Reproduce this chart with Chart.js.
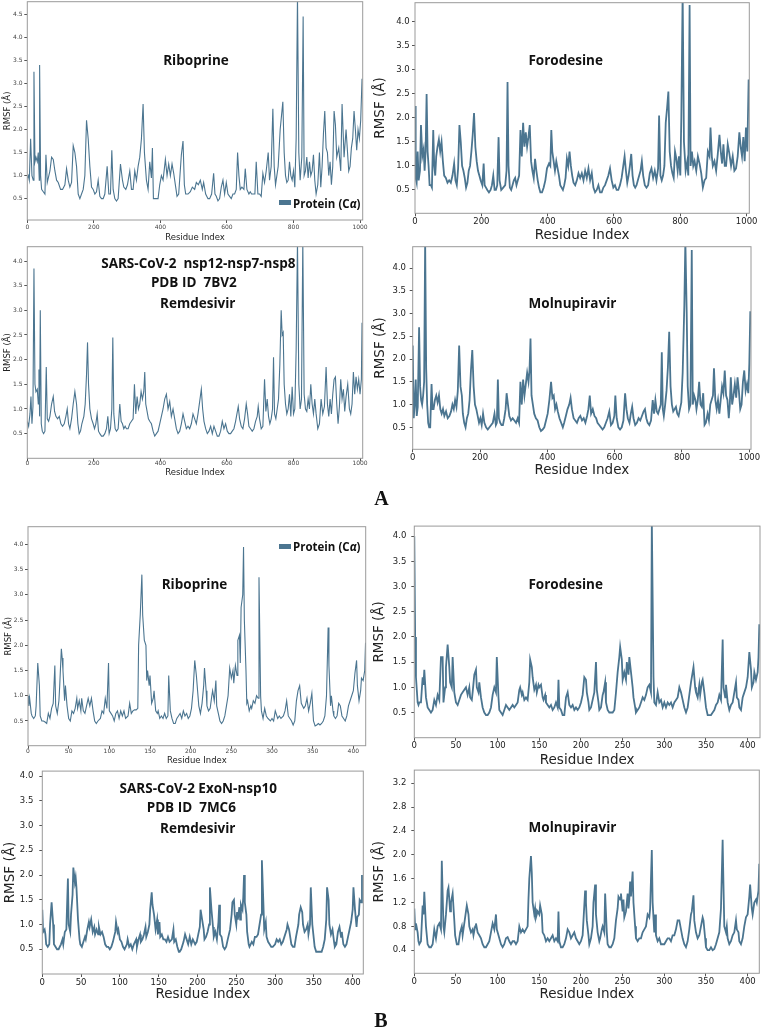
<!DOCTYPE html>
<html lang="en">
<head>
    <meta charset="UTF-8" />
    <title>RMSF plots</title>
    <style>
        body { margin: 0; background: #fff; }
        #fig { position: relative; width: 762px; height: 1028px; overflow: hidden; background: #fff; }
        #fig canvas { position: absolute; }
        .lbl {
            position: absolute;
            transform: translate(-50%, -50%);
            font-family: "Open Sans", sans-serif;
            font-weight: 700;
            font-size: 13.5px;
            color: #111;
            white-space: pre;
        }
        .leg { position: absolute; font-family: "Open Sans", sans-serif; font-weight: 700; font-size: 11.5px; color: #111; white-space: nowrap; transform: translateY(-50%); }
        .sw { position: absolute; width: 12px; height: 5px; background: #4b7590; }
        .panel-tag { position: absolute; transform: translate(-50%, -50%); font-family: "Liberation Serif", serif; font-weight: 700; font-size: 20px; color: #111; }
    </style>
    <script src="https://cdn.jsdelivr.net/npm/chart.js"></script>
</head>
<body>
<div id="fig"></div>
<script>
    // nsp12-nsp7-nsp8 (A): residue index / RMSF
    const ribA_res = [
        0,3,6,10,14,18,20,23,26,30,
        33,36,37,40,43,48,53,56,60,68,
        73,78,83,88,93,100,106,113,118,123,
        128,133,138,143,148,153,158,163,168,173,
        178,183,188,193,198,203,208,213,218,223,
        228,233,240,245,250,254,258,263,268,273,
        280,286,290,296,301,308,313,318,323,328,
        333,338,343,348,352,355,358,363,368,373,
        376,379,388,393,398,403,408,415,420,425,
        430,435,440,445,450,455,463,468,472,476,
        483,490,496,503,508,514,520,526,530,536,
        543,548,554,560,564,568,573,578,583,588,
        593,598,603,608,613,618,623,628,632,636,
        640,645,651,655,660,666,670,674,680,684,
        688,693,698,703,708,713,718,724,728,733,
        738,742,746,750,754,760,764,768,772,776,
        780,784,788,792,796,800,804,808,812,816,
        820,825,829,832,836,840,844,848,852,856,
        860,864,868,873,878,882,886,890,894,898,
        902,906,910,914,918,922,926,930,936,942,
        946,952,958,962,966,970,974,978,982,986,
        990,994,998,1002,1006
    ];
    const ribA_rmsf = [
        0.95,1.0,0.9,1.8,1.0,0.9,3.25,1.3,1.4,1.3,
        1.5,0.9,3.4,1.0,0.7,0.65,0.6,1.45,0.85,1.1,
        1.4,1.35,1.1,0.9,0.85,0.7,0.7,0.8,1.15,0.9,
        0.75,0.85,1.65,1.5,1.2,0.6,0.5,0.6,0.7,1.0,
        2.2,1.8,1.2,0.75,0.7,0.6,0.65,0.9,0.55,0.5,
        0.5,0.6,1.2,0.6,0.6,1.55,0.7,0.5,0.45,0.5,
        1.25,0.9,0.75,0.7,0.8,1.1,0.7,0.7,1.1,0.9,
        1.2,1.4,1.8,2.55,1.5,1.2,0.9,0.7,1.3,0.95,
        1.6,0.5,0.5,0.5,0.8,1.0,0.9,1.35,1.0,1.25,
        1.0,1.25,1.05,0.8,0.55,0.6,1.45,1.75,0.8,0.6,
        0.6,0.65,0.75,0.7,0.85,0.8,0.9,0.7,0.85,0.6,
        0.5,0.5,0.6,1.05,0.6,0.55,0.45,0.5,0.75,0.9,
        0.6,0.85,0.6,0.55,0.5,0.6,0.6,0.7,1.5,1.0,
        0.7,0.75,0.7,1.15,0.7,0.6,0.65,0.6,0.6,0.6,
        1.3,0.6,0.6,0.55,1.05,0.85,1.1,1.5,0.9,1.2,
        2.45,1.2,0.8,1.0,1.2,2.0,2.3,2.6,1.5,1.0,
        0.85,0.9,1.3,1.0,0.9,1.1,0.75,1.8,4.9,1.5,
        0.9,1.4,4.45,1.0,1.1,1.4,0.95,1.3,1.0,1.1,
        1.45,0.9,0.6,0.8,1.5,0.75,1.2,1.9,2.4,1.6,
        1.5,1.0,1.3,0.8,1.2,2.4,2.1,1.4,1.6,1.1,
        2.55,1.4,2.0,1.55,1.1,1.2,1.6,1.8,2.4,2.0,
        1.55,2.0,1.8,2.2,3.1
    ];

    const foroA_res = [
        0,2,5,8,11,15,18,22,26,29,
        32,35,38,41,44,48,51,55,58,61,
        64,68,72,76,80,84,88,93,98,103,
        108,113,118,122,126,130,134,138,142,146,
        150,154,158,162,166,170,174,178,182,186,
        190,194,198,203,207,210,214,218,223,228,
        232,236,240,244,248,252,255,260,266,272,
        276,279,282,286,290,294,298,302,306,310,
        314,318,322,326,330,334,338,342,346,350,
        354,358,362,366,370,374,378,383,388,393,
        398,404,408,411,414,418,422,426,430,434,
        438,442,446,450,454,458,462,466,470,474,
        478,483,488,493,498,503,508,513,518,523,
        528,533,538,543,548,553,558,563,568,573,
        578,583,588,593,598,603,608,613,618,623,
        628,632,636,640,644,648,652,656,660,664,
        668,672,676,680,684,688,693,698,703,708,
        713,718,723,728,733,736,740,744,748,752,
        756,760,764,768,772,776,780,784,788,792,
        796,800,803,807,811,816,821,824,828,831,
        835,839,843,848,853,858,863,868,873,878,
        883,888,891,895,898,903,908,913,918,922,
        926,930,934,938,943,948,953,958,963,968,
        973,978,982,986,990,994,998,1002,1006
    ];
    const foroA_rmsf = [
        2.25,0.75,0.65,1.3,0.7,0.9,1.85,1.2,1.35,0.9,
        1.3,2.5,1.3,1.0,0.6,0.6,0.55,1.75,1.0,0.8,
        1.2,1.4,1.55,1.3,1.5,1.1,0.8,0.75,0.65,0.7,
        0.65,0.8,1.05,0.7,0.6,0.95,1.85,1.5,1.0,0.9,
        0.75,0.55,0.65,0.9,1.0,1.3,1.65,2.1,1.4,1.1,
        0.9,0.8,0.7,0.6,1.05,0.6,0.55,0.5,0.45,0.5,
        0.6,0.8,0.5,0.5,0.6,1.6,0.7,0.5,0.55,0.6,
        0.9,2.75,1.0,0.55,0.5,0.6,0.7,0.75,0.6,0.7,
        0.8,1.75,1.2,1.9,1.4,1.7,1.4,1.6,1.85,1.1,
        0.9,0.75,1.15,0.9,0.7,0.55,0.45,0.45,0.55,0.7,
        0.95,1.05,1.0,1.75,1.3,1.1,0.9,1.1,0.95,0.8,
        0.6,0.55,0.5,0.6,0.75,1.15,1.0,1.3,1.0,0.8,
        0.65,0.6,0.7,0.85,0.75,0.85,0.7,0.9,0.75,0.95,
        0.7,0.85,0.55,0.45,0.5,0.6,0.45,0.45,0.55,0.6,
        0.7,0.8,0.95,0.7,0.55,0.6,0.5,0.5,0.6,0.75,
        1.0,1.2,0.9,0.65,0.8,1.0,1.25,0.8,0.6,0.55,
        0.6,0.7,0.8,0.9,1.1,0.8,0.6,0.55,0.6,0.85,
        0.95,0.75,0.9,0.7,0.95,2.05,0.8,0.7,0.8,1.0,
        1.9,2.2,2.55,1.3,1.0,0.85,0.75,1.3,1.15,0.9,
        1.2,0.8,2.0,4.6,1.5,0.9,1.1,0.8,4.35,1.0,
        1.3,1.0,1.1,0.9,1.2,1.05,0.85,0.55,0.7,0.75,
        1.3,1.2,1.8,1.2,1.0,1.1,0.9,1.25,1.65,1.3,
        1.05,1.45,1.0,1.0,1.45,1.25,1.0,1.2,0.9,0.95,
        1.2,1.7,1.4,1.2,1.6,1.1,1.8,1.3,2.8
    ];

    const remA_res = [
        0,4,8,11,14,17,20,23,26,30,
        33,35,37,39,42,45,49,53,57,60,
        64,68,73,78,82,86,91,96,101,106,
        111,116,120,124,128,133,138,143,148,152,
        156,160,164,170,174,178,181,184,188,193,
        198,202,206,210,214,218,223,228,233,238,
        242,246,250,254,257,260,264,268,273,278,
        282,286,290,294,298,303,308,313,318,322,
        326,330,334,338,342,346,350,353,356,360,
        364,368,373,378,383,388,393,398,403,408,
        413,418,423,428,433,438,443,448,453,458,
        463,468,473,478,483,488,493,498,503,508,
        513,518,523,527,531,536,541,546,551,556,
        561,566,571,576,581,586,591,596,601,606,
        611,616,621,626,630,634,638,643,648,653,
        658,662,666,671,676,681,686,691,694,698,
        703,708,713,717,721,725,729,733,737,740,
        743,747,751,755,759,763,766,769,772,776,
        780,784,788,792,796,800,804,808,812,816,
        820,824,828,832,836,840,844,848,852,856,
        860,864,868,873,878,883,888,893,898,902,
        906,910,914,918,922,926,930,934,938,942,
        946,950,954,958,963,968,972,976,980,984,
        988,992,996,1000,1004,1006
    ];
    const remA_rmsf = [
        0.75,0.65,0.9,1.25,0.7,1.05,3.85,1.5,1.35,1.4,
        1.1,1.8,0.85,3.0,0.7,0.55,0.5,0.55,1.85,0.8,
        0.75,0.85,1.1,1.25,0.95,0.85,0.8,0.85,0.7,0.65,
        0.7,0.85,1.0,0.7,0.6,0.8,1.1,1.35,1.1,0.7,
        0.5,0.55,0.7,0.85,1.1,1.7,2.35,1.5,1.0,0.8,
        0.7,0.6,0.7,0.9,0.55,0.5,0.45,0.45,0.5,0.6,
        0.85,0.5,0.6,1.0,2.45,0.9,0.6,0.55,0.6,1.1,
        0.75,0.7,0.6,0.65,0.6,0.6,0.7,0.75,0.8,1.5,
        0.9,1.25,1.0,1.1,1.35,1.2,1.35,1.75,1.1,0.95,
        0.8,0.75,0.7,0.55,0.45,0.5,0.55,0.7,0.85,1.0,
        1.2,1.3,1.0,1.15,0.85,1.0,0.8,0.6,0.5,0.55,
        0.7,0.9,0.75,0.6,0.65,0.6,0.7,0.9,0.8,0.7,
        0.9,1.15,1.4,1.0,0.75,0.6,0.5,0.55,0.65,0.5,
        0.65,0.55,0.45,0.45,0.55,0.75,0.6,0.7,0.55,0.5,
        0.5,0.55,0.6,0.75,0.9,1.05,0.8,0.65,0.6,0.8,
        1.1,0.9,0.65,0.6,0.55,0.6,0.75,0.85,1.05,0.8,
        0.6,0.65,1.6,0.95,1.2,0.85,0.7,0.8,1.0,2.05,
        0.9,0.8,1.0,1.2,1.9,3.0,2.5,2.55,1.5,1.1,
        0.9,1.0,1.3,0.85,1.45,0.9,1.0,2.2,4.4,1.5,
        1.0,1.2,4.4,1.3,1.0,0.95,1.2,1.0,1.5,1.1,
        0.9,1.2,0.9,0.6,0.7,1.2,0.9,1.05,1.85,1.1,
        0.85,1.2,0.9,1.3,1.6,1.65,1.1,0.7,1.05,1.6,
        1.2,1.4,0.95,1.25,1.5,1.0,0.9,1.1,1.75,1.3,
        1.65,1.4,1.6,1.3,1.6,2.75
    ];

    const molA_res = [
        0,3,6,9,12,15,19,22,25,28,
        31,34,37,40,43,46,49,52,56,59,
        62,66,70,74,78,82,86,90,94,99,
        104,109,114,118,122,126,130,134,138,142,
        146,149,153,157,161,165,169,173,177,181,
        185,189,193,197,201,205,209,213,218,223,
        228,233,238,243,247,250,253,256,260,264,
        268,272,276,279,283,287,292,297,302,307,
        312,316,320,324,328,332,336,340,344,347,
        350,353,357,361,366,371,376,381,386,391,
        396,401,406,411,415,419,423,427,431,436,
        441,446,450,455,460,465,469,473,478,483,
        488,493,498,503,508,513,518,522,526,530,
        535,540,545,549,554,559,564,569,574,579,
        584,589,594,599,602,606,611,616,621,626,
        631,635,639,644,648,652,656,661,666,671,
        676,681,686,690,694,698,703,708,713,717,
        721,725,729,733,737,740,743,746,750,754,
        758,762,766,770,774,778,782,786,790,794,
        798,802,807,810,814,817,821,825,829,832,
        836,840,843,847,851,855,859,863,867,871,
        876,880,884,888,892,895,899,903,907,911,
        915,919,923,927,931,935,939,942,945,949,
        953,957,961,965,969,973,977,981,985,989,
        993,997,1000,1003
    ];
    const molA_rmsf = [
        2.3,0.7,1.0,1.55,0.75,0.95,2.7,1.4,1.1,1.0,
        1.2,1.5,4.6,1.8,1.0,0.6,0.5,0.5,1.45,0.9,
        0.9,1.1,1.2,1.05,1.2,0.9,0.8,0.9,0.75,0.85,
        0.7,0.75,0.85,1.0,0.9,1.1,0.95,1.3,2.3,1.4,
        1.2,0.8,0.6,0.5,0.7,0.8,1.1,1.75,2.2,1.4,
        1.0,0.9,0.75,0.6,0.7,0.55,0.8,0.6,0.5,0.45,
        0.5,0.55,0.6,0.8,0.55,0.6,1.55,0.7,0.6,0.55,
        0.55,0.7,0.9,1.25,1.0,0.75,0.65,0.7,0.65,0.6,
        0.7,0.6,1.5,1.0,1.55,1.2,1.45,1.7,1.5,1.75,
        2.45,1.2,1.0,0.8,0.7,0.65,0.5,0.42,0.45,0.5,
        0.65,0.8,1.1,1.5,1.15,1.2,0.9,1.0,0.85,0.7,
        0.6,0.5,0.6,0.75,0.9,1.0,1.15,0.9,0.7,0.65,
        0.6,0.7,0.75,0.65,0.7,0.6,0.75,0.9,1.2,0.8,
        0.9,0.75,0.7,0.6,0.55,0.5,0.45,0.5,0.6,0.7,
        0.85,0.55,0.6,0.75,1.2,0.7,0.5,0.45,0.5,0.65,
        1.25,0.9,0.7,0.6,0.8,0.95,0.7,0.55,0.6,0.7,
        0.65,0.75,0.85,0.9,0.7,0.6,0.55,0.65,1.1,0.8,
        1.1,0.85,0.8,0.9,1.0,2.15,0.9,0.75,1.0,1.3,
        1.8,2.6,1.4,1.0,0.85,0.9,0.95,0.8,0.75,0.9,
        1.05,1.7,3.2,4.6,3.0,1.4,0.9,1.0,4.4,1.0,
        1.2,1.1,0.9,1.1,1.5,1.0,0.95,1.25,0.55,0.6,
        0.8,0.65,1.0,1.1,1.2,1.8,1.1,0.9,1.1,0.8,
        1.1,1.4,1.25,1.75,1.2,1.1,0.7,1.0,1.6,1.0,
        1.2,1.45,1.15,1.6,1.3,0.9,1.0,1.5,1.75,1.3,
        1.45,1.25,1.9,3.05
    ];

    // ExoN-nsp10 (B): residue index / RMSF
    const ribB_res = [
        0,1,2,4,5,7,9,10,12,14,
        15,17,19,21,23,25,27,29,31,33,
        34,36,38,39,41,42,43,45,46,48,
        50,52,54,56,58,60,61,63,65,66,
        68,70,72,74,76,78,80,82,84,86,
        89,91,93,95,97,99,100,102,104,106,
        108,110,112,114,116,118,120,123,125,127,
        129,131,133,135,136,138,140,141,143,145,
        146,147,149,150,152,154,155,157,159,160,
        162,164,166,168,170,172,173,175,177,179,
        181,183,185,187,189,191,193,195,197,199,
        201,203,205,207,209,210,212,214,216,217,
        219,220,222,224,226,227,229,231,232,234,
        236,238,240,242,244,246,248,250,252,253,
        255,257,258,260,261,262,264,265,266,268,
        269,270,272,274,275,277,279,281,283,284,
        286,287,289,291,293,295,298,300,302,304,
        307,309,311,314,316,318,320,322,324,326,
        328,330,332,334,336,339,341,343,345,347,
        349,351,353,355,357,359,361,363,365,367,
        369,370,372,373,375,376,378,380,382,384,
        386,388,390,392,394,396,398,400,402,404,
        405,407,409,410,412,414,415
    ];
    const ribB_rmsf = [
        1.0,0.8,0.95,0.65,0.6,0.55,0.6,0.8,1.65,1.2,
        0.6,0.5,0.5,0.48,0.45,0.65,0.55,0.75,0.85,1.6,
        0.8,0.65,0.9,1.2,1.93,1.75,1.5,0.9,1.2,0.8,
        0.55,0.5,0.7,0.65,0.75,0.95,0.75,0.9,0.7,0.95,
        0.7,0.65,0.8,0.95,0.8,0.95,0.7,0.5,0.45,0.5,
        0.55,0.7,0.65,0.95,0.75,1.65,0.7,0.65,0.6,0.5,
        0.65,0.7,0.55,0.7,0.6,0.7,0.55,0.6,0.85,0.65,
        0.7,0.72,0.72,0.75,2.0,2.6,3.4,2.6,2.1,2.0,
        1.3,1.5,1.2,1.4,0.85,0.95,1.1,0.7,0.65,0.7,
        0.55,0.6,0.55,0.65,0.55,0.6,1.4,0.7,0.55,0.45,
        0.45,0.55,0.6,0.65,0.55,0.7,0.6,0.65,0.55,0.6,
        0.75,1.1,1.7,1.4,1.0,0.8,0.65,0.85,1.2,1.55,
        1.1,0.8,0.7,0.75,1.0,1.1,0.9,1.3,0.8,0.65,
        0.5,0.45,0.5,0.6,0.8,1.0,1.55,1.35,1.5,1.25,
        1.6,1.4,2.1,2.2,1.65,2.75,3.0,3.95,2.5,1.5,
        0.85,0.9,0.7,0.8,0.75,0.9,0.85,1.0,0.95,3.35,
        1.0,0.7,0.55,0.75,0.6,0.55,0.5,0.55,0.5,0.7,
        0.55,0.6,0.55,0.6,0.7,0.9,0.6,0.55,0.5,0.42,
        0.5,0.9,1.1,1.2,0.85,0.75,0.8,0.95,0.7,0.85,
        1.05,0.5,0.4,0.42,0.45,0.42,0.45,0.5,0.6,1.0,
        2.35,1.6,0.8,1.0,0.7,0.6,0.55,0.6,0.85,0.8,
        0.6,0.55,0.5,0.6,0.8,0.9,1.0,1.1,1.45,1.7,
        1.2,0.9,1.1,1.35,1.3,1.5,2.05
    ];

    const foroB_res = [
        0,1,2,4,5,6,8,10,11,12,
        14,16,18,20,22,24,26,28,30,32,
        34,35,37,38,40,42,43,45,46,48,
        50,52,54,56,58,60,62,64,66,67,
        69,70,72,74,75,77,78,80,82,84,
        86,88,90,92,94,96,98,99,101,102,
        104,106,108,110,112,114,116,118,120,122,
        124,126,127,129,130,132,134,136,138,139,
        141,142,144,146,147,149,150,152,154,155,
        157,158,160,162,164,166,168,170,172,173,
        174,176,178,180,182,184,186,188,190,192,
        194,196,198,200,202,204,206,207,209,210,
        212,214,216,218,219,221,222,224,226,227,
        229,230,232,234,236,238,240,242,244,246,
        247,249,250,252,254,255,257,258,260,262,
        263,265,266,268,270,272,274,276,278,280,
        282,284,285,287,288,290,292,294,296,298,
        300,302,304,306,308,310,312,314,316,318,
        320,322,324,326,328,330,332,334,335,337,
        338,340,342,343,345,346,348,350,352,354,
        356,358,360,362,364,366,368,370,371,373,
        374,376,378,380,382,384,386,387,389,390,
        392,394,396,398,400,402,404,405,407,408,
        410,412,413,414
    ];
    const foroB_rmsf = [
        4.0,2.0,1.2,0.7,0.65,0.7,0.7,1.2,1.05,1.35,
        0.8,0.6,0.55,0.5,0.55,0.75,0.65,0.85,0.75,1.6,
        1.6,0.7,1.0,1.4,1.85,1.4,1.1,1.0,1.6,0.9,
        0.7,0.65,0.75,0.85,0.9,0.95,1.0,0.85,1.0,0.8,
        0.75,0.9,1.25,1.35,1.0,0.9,1.1,0.8,0.6,0.5,
        0.45,0.45,0.5,0.6,0.85,1.0,0.9,1.6,0.8,0.55,
        0.5,0.45,0.55,0.65,0.6,0.55,0.6,0.65,0.6,0.65,
        0.7,0.95,1.0,0.85,0.9,0.75,0.8,0.75,1.1,1.55,
        1.4,1.2,0.95,1.05,0.9,1.05,1.0,1.05,0.8,0.75,
        0.85,0.7,0.65,0.6,0.65,0.55,0.6,0.7,0.6,1.15,
        0.6,0.55,0.45,0.45,0.8,0.9,0.65,0.6,0.65,0.55,
        0.6,0.55,0.6,0.7,0.85,1.2,1.15,0.9,0.7,0.55,
        0.6,0.75,0.9,1.5,0.95,0.7,0.55,0.6,0.85,0.9,
        1.1,0.7,0.55,0.5,0.5,0.5,0.55,0.9,1.3,1.6,
        1.8,1.55,1.15,1.3,1.15,1.5,1.25,1.6,1.3,1.0,
        0.8,0.6,0.5,0.55,0.6,0.7,0.8,0.75,0.85,1.0,
        1.05,0.9,4.3,1.2,0.7,0.65,0.9,0.7,0.75,0.6,
        0.7,0.6,0.7,0.65,0.7,0.6,0.7,0.75,0.8,1.0,
        0.9,0.75,0.6,0.5,0.6,0.85,1.1,1.3,1.4,1.0,
        0.9,0.8,1.05,0.85,1.1,1.15,0.9,0.6,0.45,0.45,
        0.45,0.5,0.55,0.65,0.7,0.85,0.75,1.95,1.0,0.8,
        1.05,0.7,0.55,0.65,0.7,0.9,1.1,0.8,0.75,0.6,
        0.55,0.8,0.9,1.0,1.2,1.7,1.35,1.0,1.1,1.3,
        1.15,1.3,1.6,2.25
    ];

    const remB_res = [
        0,1,3,4,5,7,9,10,12,14,
        15,17,19,21,24,26,27,29,31,33,
        34,36,37,39,40,42,43,44,46,48,
        49,51,53,55,56,58,60,61,63,65,
        67,68,70,72,73,75,77,79,81,83,
        85,87,89,91,94,95,97,98,100,102,
        104,106,109,110,112,114,116,118,121,122,
        124,126,127,129,131,133,134,136,138,139,
        141,142,144,146,148,149,151,152,154,156,
        158,160,162,164,167,169,170,172,174,176,
        177,179,182,184,186,188,190,192,194,197,
        199,201,203,204,206,208,209,211,213,215,
        216,218,220,221,223,225,227,228,229,231,
        233,235,237,239,242,244,245,247,248,250,
        251,252,254,255,256,258,259,260,261,263,
        264,266,267,270,272,274,276,278,280,282,
        283,285,286,288,289,291,293,295,297,300,
        302,304,306,308,310,312,315,316,318,320,
        321,323,325,327,330,331,333,335,336,338,
        340,342,343,345,346,348,350,351,353,355,
        358,360,362,364,366,367,369,370,372,374,
        376,377,379,381,383,385,386,388,390,392,
        394,396,398,400,401,403,405,406,408,409,
        411,412
    ];
    const remB_rmsf = [
        1.3,0.85,0.9,0.8,0.6,0.55,0.6,1.0,1.45,1.0,
        0.6,0.55,0.5,0.5,0.6,0.7,0.6,0.85,0.9,1.93,
        1.0,0.85,1.2,1.6,2.15,1.85,1.95,1.75,1.1,0.7,
        0.6,0.55,0.65,0.75,0.7,0.9,1.05,0.95,1.1,0.85,
        0.95,0.8,0.9,0.8,0.95,0.8,0.85,0.75,0.6,0.55,
        0.55,0.5,0.55,0.65,0.85,1.05,0.85,0.9,0.7,0.65,
        0.55,0.5,0.6,0.7,0.55,0.6,0.5,0.6,0.7,0.55,
        0.7,0.8,0.65,0.7,0.8,0.95,0.75,0.85,1.0,1.3,
        1.65,1.4,1.2,0.9,1.1,0.8,1.05,0.75,0.8,0.7,
        0.7,0.65,0.75,0.65,0.7,0.9,0.65,0.7,0.55,0.45,
        0.45,0.5,0.65,0.8,0.7,0.6,0.75,0.6,0.7,0.6,
        0.65,0.8,0.95,1.3,1.1,0.9,0.7,0.75,0.85,1.0,
        1.75,1.3,0.95,0.75,0.85,0.7,1.05,1.4,0.8,0.75,
        0.55,0.5,0.55,0.7,0.9,1.2,1.45,1.5,1.2,1.0,
        1.25,1.1,1.35,1.1,1.4,1.3,1.55,2.0,1.45,1.2,
        0.85,0.6,0.55,0.65,0.6,0.75,0.75,0.8,1.0,1.2,
        2.3,1.4,0.9,1.05,0.75,0.65,0.6,0.55,0.55,0.6,
        0.7,0.65,0.7,0.6,0.65,0.75,0.9,1.0,0.9,0.7,
        0.6,0.55,0.55,0.75,1.0,1.2,1.35,1.25,1.0,0.85,
        0.9,1.0,0.8,1.0,1.75,1.0,0.7,0.55,0.45,0.45,
        0.45,0.45,0.55,0.7,1.1,1.75,1.5,1.0,0.8,0.9,
        0.65,0.55,0.6,0.85,0.95,0.75,0.85,0.6,0.55,0.6,
        0.75,0.9,1.05,1.3,1.75,1.3,0.95,1.15,1.2,1.5,
        1.45,2.0
    ];

    const molB_res = [
        0,1,2,4,5,6,8,10,11,12,
        14,16,18,20,22,24,26,28,30,32,
        33,35,36,38,40,41,43,44,46,48,
        49,51,53,55,57,58,60,62,63,65,
        66,68,70,71,73,74,76,78,80,82,
        84,86,88,90,92,94,96,98,99,101,
        102,104,106,108,110,112,114,116,118,120,
        122,124,126,128,130,132,134,136,137,138,
        140,141,142,144,145,146,148,150,151,153,
        154,156,158,160,162,164,166,168,170,172,
        173,174,176,178,180,182,184,186,188,190,
        192,194,196,198,200,202,203,205,206,207,
        209,210,212,214,215,217,218,220,222,223,
        225,226,228,229,231,232,234,236,238,240,
        242,244,245,247,248,250,251,252,254,256,
        257,258,259,260,262,263,265,266,268,270,
        272,274,276,278,280,282,283,285,286,288,
        289,290,292,294,296,298,300,302,304,306,
        308,310,312,314,316,318,320,322,324,326,
        328,330,332,333,335,336,338,340,342,344,
        346,347,349,350,352,354,356,358,360,362,
        364,366,368,370,371,372,374,375,376,378,
        380,382,384,386,387,389,390,392,394,396,
        398,400,402,403,405,406,408,410,411,413,
        414
    ];
    const molB_rmsf = [
        1.1,0.75,0.85,0.7,0.55,0.5,0.55,1.15,1.0,1.38,
        0.8,0.5,0.45,0.45,0.5,0.75,0.6,0.8,0.85,0.75,
        1.9,0.8,0.7,1.0,1.4,1.45,1.05,1.2,1.35,0.9,
        0.65,0.5,0.5,0.7,0.8,0.65,0.85,1.05,1.15,1.0,
        0.8,0.7,0.75,0.65,0.8,0.85,0.7,0.65,0.6,0.5,
        0.45,0.45,0.5,0.55,0.7,0.85,0.75,1.0,0.75,0.65,
        0.6,0.5,0.45,0.5,0.6,0.62,0.55,0.5,0.55,0.55,
        0.5,0.55,0.8,0.7,0.75,0.7,0.75,0.8,1.25,1.6,
        1.98,1.7,1.2,1.0,1.1,0.95,1.05,1.0,1.15,1.0,
        0.7,0.65,0.55,0.6,0.55,0.6,0.65,0.55,0.6,0.55,
        1.05,0.55,0.45,0.45,0.5,0.6,0.75,0.7,0.6,0.65,
        0.7,0.6,0.55,0.5,0.55,0.65,0.9,1.4,1.2,0.9,
        0.65,0.5,0.6,0.8,1.2,1.5,1.0,0.7,0.55,0.6,
        0.75,0.8,0.7,1.35,0.7,0.5,0.45,0.45,0.5,0.6,
        0.9,1.1,1.3,1.25,1.35,1.05,1.25,0.95,1.05,1.35,
        1.1,1.25,1.55,1.3,1.72,1.2,0.8,0.6,0.55,0.6,
        0.6,0.7,0.75,0.8,1.0,0.95,1.1,2.08,1.2,0.7,
        1.0,0.65,0.55,0.6,0.5,0.5,0.5,0.55,0.6,0.6,
        0.55,0.65,0.65,0.75,0.9,0.9,0.75,0.6,0.5,0.45,
        0.55,0.75,1.0,1.05,1.32,0.9,0.7,0.6,0.65,0.8,
        0.95,0.9,0.6,0.45,0.4,0.4,0.45,0.4,0.42,0.5,
        0.6,0.7,1.1,2.25,1.5,0.8,0.7,0.8,0.6,0.5,
        0.55,0.65,0.7,0.9,0.75,0.7,0.55,0.5,0.6,0.8,
        0.95,1.0,1.3,1.5,1.1,1.0,1.2,1.25,1.2,1.4,
        1.85
    ];

    // tick values
    const xTicksLong = [0, 200, 400, 600, 800, 1000];
    const xTicksShort = [0, 50, 100, 150, 200, 250, 300, 350, 400];
    const yTicksTo45 = [0.5, 1.0, 1.5, 2.0, 2.5, 3.0, 3.5, 4.0, 4.5];
    const yTicksTo40 = [0.5, 1.0, 1.5, 2.0, 2.5, 3.0, 3.5, 4.0];
    const yTicksMolB = [0.4, 0.8, 1.2, 1.6, 2.0, 2.4, 2.8, 3.2];

    const LINE = "#4b7590";
    const FONT = "DejaVu Sans";
    const TICK_LEN = 3;
    Chart.defaults.font.family = FONT;

    const panels = [
        { res: ribA_res, val: ribA_rmsf, L: 27.3, T: 1.7, R: 362.7, B: 220, ymin: 0.037, ymax: 4.77, xmax: 1008,
          yt: yTicksTo45, xt: xTicksLong, small: true, yTitleX: 8, xTitleY: 237.3, tickY: 227.7, yPad: 1.7 },
        { res: foroA_res, val: foroA_rmsf, L: 415, T: 2.7, R: 749.3, B: 213.3, ymin: 0.014, ymax: 4.4, xmax: 1008,
          yt: yTicksTo40, xt: xTicksLong, small: false, yTitleX: 380, xTitleY: 235.3, tickY: 221.7, yPad: 2.3 },
        { res: remA_res, val: remA_rmsf, L: 27.3, T: 246.7, R: 362.7, B: 458.3, ymin: 0.0, ymax: 4.29, xmax: 1008,
          yt: yTicksTo40, xt: xTicksLong, small: true, yTitleX: 8, xTitleY: 472.3, tickY: 463.3, yPad: 1.7 },
        { res: molA_res, val: molA_rmsf, L: 412.7, T: 246.7, R: 751, B: 449.3, ymin: 0.017, ymax: 4.47, xmax: 1005,
          yt: yTicksTo40, xt: xTicksLong, small: false, yTitleX: 380, xTitleY: 470, tickY: 457.3, yPad: 3.7 },
        { res: ribB_res, val: ribB_rmsf, L: 28, T: 526.7, R: 365.7, B: 745.7, ymin: 0.01, ymax: 4.35, xmax: 415.2,
          yt: yTicksTo40, xt: xTicksShort, small: true, yTitleX: 9, xTitleY: 761, tickY: 751.7, yPad: 1.7 },
        { res: foroB_res, val: foroB_rmsf, L: 414.3, T: 526, R: 760, B: 737.7, ymin: 0.0, ymax: 4.2, xmax: 414.8,
          yt: yTicksTo40, xt: xTicksShort, small: false, yTitleX: 379, xTitleY: 760, tickY: 746, yPad: 5 },
        { res: remB_res, val: remB_rmsf, L: 42.3, T: 770.7, R: 363.3, B: 974, ymin: 0.0, ymax: 4.1, xmax: 413.7,
          yt: yTicksTo40, xt: xTicksShort, small: false, yTitleX: 10, xTitleY: 994, tickY: 982.7, yPad: 6 },
        { res: molB_res, val: molB_rmsf, L: 414.3, T: 770, R: 759.3, B: 973.3, ymin: 0.013, ymax: 3.42, xmax: 414,
          yt: yTicksMolB, xt: xTicksShort, small: false, yTitleX: 379, xTitleY: 994.3, tickY: 981.7, yPad: 5 }
    ];

    // grey box round the plot area
    const frame = {
        id: "frame",
        afterDatasetsDraw(chart) {
            const { ctx, chartArea: a } = chart;
            ctx.save();
            ctx.strokeStyle = "#9a9a9a";
            ctx.lineWidth = 1;
            ctx.strokeRect(a.left, a.top, a.right - a.left, a.bottom - a.top);
            ctx.restore();
        }
    };

    const fig = document.getElementById("fig");

    function drawPanel(p) {
        const tickFont = p.small ? 6 : 8.5;
        const axisFont = p.small ? 8.5 : 13.5;
        const axLh = axisFont * 1.2, tkLh = tickFont * 1.2;
        const cl = Math.floor(p.yTitleX - axLh / 2) - 1;
        const ct = Math.floor(p.T) - 10;
        const cw = Math.ceil(p.R) + 24 - cl;
        const ch = Math.ceil(p.xTitleY + axLh / 2) + 2 - ct;
        const yW = p.L - cl;
        const xH = ct + ch - p.B;

        const canvas = document.createElement("canvas");
        canvas.width = cw;
        canvas.height = ch;
        canvas.style.left = cl + "px";
        canvas.style.top = ct + "px";
        fig.appendChild(canvas);

        const tickColor = p.small ? "#444" : "#222";
        const grid = { display: true, drawOnChartArea: false, drawTicks: true, tickLength: TICK_LEN, color: "#555" };

        new Chart(canvas, {
            type: "line",
            data: {
                datasets: [{
                    data: p.res.map((r, i) => ({ x: r, y: p.val[i] })),
                    borderColor: LINE,
                    borderWidth: p.small ? 1.1 : 1.8,
                    pointRadius: 0,
                    tension: 0,
                    fill: false
                }]
            },
            options: {
                responsive: false,
                animation: false,
                devicePixelRatio: 1,
                layout: { padding: { top: p.T - ct, right: cl + cw - p.R, left: 0, bottom: 0 } },
                plugins: { legend: { display: false }, tooltip: { enabled: false } },
                scales: {
                    x: {
                        type: "linear",
                        min: 0,
                        max: p.xmax,
                        afterBuildTicks: (s) => { s.ticks = p.xt.map((v) => ({ value: v })); },
                        afterFit: (s) => { s.height = xH; },
                        grid: grid,
                        border: { display: false },
                        ticks: {
                            autoSkip: false, maxRotation: 0, color: tickColor,
                            font: { size: tickFont },
                            padding: p.tickY - p.B - TICK_LEN - tkLh / 2,
                            callback: (v) => String(v)
                        },
                        title: {
                            display: true, text: "Residue Index", color: "#222",
                            font: { size: axisFont },
                            padding: { top: 0, bottom: p.B + xH - axLh / 2 - p.xTitleY }
                        }
                    },
                    y: {
                        min: p.ymin,
                        max: p.ymax,
                        afterBuildTicks: (s) => { s.ticks = p.yt.map((v) => ({ value: v })); },
                        afterFit: (s) => { s.width = yW; },
                        grid: grid,
                        border: { display: false },
                        ticks: {
                            autoSkip: false, color: tickColor,
                            font: { size: tickFont },
                            padding: p.yPad,
                            callback: (v) => Number(v).toFixed(1)
                        },
                        title: {
                            display: true, text: "RMSF (Å)", color: "#222",
                            font: { size: axisFont },
                            padding: { top: p.yTitleX - cl - axLh / 2, bottom: 0 }
                        }
                    }
                }
            },
            plugins: [frame]
        });
    }

    panels.forEach(drawPanel);

    // bold captions inside the plots
    const captions = [
        ["Riboprine", 196, 60],
        ["Forodesine", 565.7, 60],
        ["SARS-CoV-2  nsp12-nsp7-nsp8", 198.3, 263.3],
        ["PDB ID  7BV2", 193.8, 281.7],
        ["Remdesivir", 197.8, 303.3],
        ["Molnupiravir", 572.5, 303.3],
        ["Riboprine", 194.5, 584.3],
        ["Forodesine", 565.7, 584.3],
        ["SARS-CoV-2 ExoN-nsp10", 198.3, 788.3],
        ["PDB ID  7MC6", 191.3, 806.7],
        ["Remdesivir", 197.8, 827.7],
        ["Molnupiravir", 572.5, 826.7]
    ];
    captions.forEach(([t, x, y]) => {
        const d = document.createElement("div");
        d.className = "lbl";
        d.style.left = x + "px";
        d.style.top = y + "px";
        d.textContent = t;
        fig.appendChild(d);
    });

    // "Protein (Cα)" legends
    [[279, 202.5], [279, 546]].forEach(([x, y]) => {
        const sw = document.createElement("div");
        sw.className = "sw";
        sw.style.left = x + "px";
        sw.style.top = (y - 2.5) + "px";
        fig.appendChild(sw);
        const t = document.createElement("div");
        t.className = "leg";
        t.style.left = (x + 14) + "px";
        t.style.top = y + "px";
        t.innerHTML = "Protein (C<i>α</i>)";
        fig.appendChild(t);
    });

    [["A", 381.5, 497.5], ["B", 381, 1020]].forEach(([t, x, y]) => {
        const d = document.createElement("div");
        d.className = "panel-tag";
        d.style.left = x + "px";
        d.style.top = y + "px";
        d.textContent = t;
        fig.appendChild(d);
    });
</script>
</body>
</html>
